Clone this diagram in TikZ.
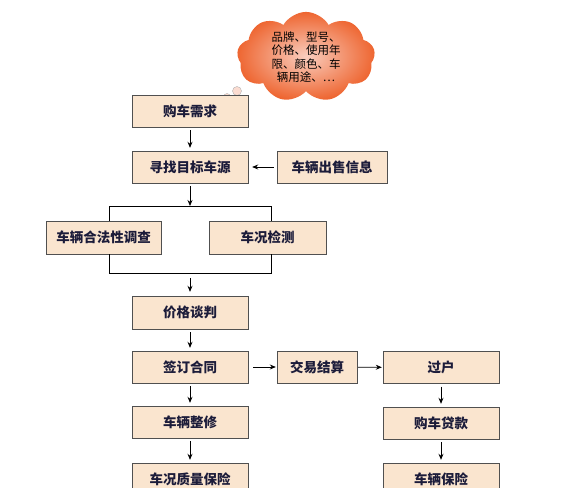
\documentclass[tikz,border=0pt]{standalone}
\usepackage{fontspec}
\newfontfamily\cjk{Noto Sans CJK SC}
\usetikzlibrary{arrows.meta,shapes.symbols}
\definecolor{boxfill}{HTML}{FAE5CF}
\definecolor{boxline}{HTML}{505050}
\definecolor{boxtext}{HTML}{1C1C3A}
\definecolor{cloudin}{HTML}{F9CDBE}
\definecolor{cloudout}{HTML}{EE6530}
\tikzset{
  stepbox/.style={draw=boxline, fill=boxfill, rectangle, minimum height=32pt,
    inner sep=0pt, font=\cjk\bfseries\fontsize{13.5}{15}\selectfont, text=boxtext},
  flow/.style={-{Stealth[length=6pt,width=5pt]}, thick},
  link/.style={line width=0.8pt}
}

\begin{document}
\begin{tikzpicture}[x=1pt, y=-1pt]
    \useasboundingbox (0, 0) rectangle (575, 487);
    % thought cloud
    \node[cloud, cloud puffs=9, cloud puff arc=120, aspect=1.55,
      minimum width=138pt, minimum height=86pt, inner sep=0pt, draw=none, shade,
      shading=radial, inner color=cloudin, outer color=cloudout,
      align=center, font=\cjk\fontsize{11.5}{13.5}\selectfont]
      (wish) at (306, 57) {品牌、型号、\\价格、使用年\\限、颜色、车\\辆用途、…};
    \draw[draw=gray!60, fill=cloudin!70] (237, 91) circle (4.5);
    \draw[draw=gray!60, fill=cloudin!70] (227, 97) circle (3.5);

    % left column
    \node[stepbox, minimum width=116pt] (need) at (190, 111) {购车需求};
    \node[stepbox, minimum width=116pt] (search) at (190, 167) {寻找目标车源};
    \node[stepbox, minimum width=110pt] (sale) at (332, 167) {车辆出售信息};
    \node[stepbox, minimum width=115pt, minimum height=33pt] (legal) at (103.5, 237.5) {车辆合法性调查};
    \node[stepbox, minimum width=117pt, minimum height=33pt] (check) at (267.5, 237.5) {车况检测};
    \node[stepbox, minimum width=116pt, minimum height=33pt] (price) at (190, 312.5) {价格谈判};
    \node[stepbox, minimum width=116pt] (contract) at (190, 367) {签订合同};
    \node[stepbox, minimum width=116pt] (repair) at (190, 422) {车辆整修};
    \node[stepbox, minimum width=116pt] (quality) at (190, 479) {车况质量保险};

    % right side
    \node[stepbox, minimum width=80pt] (settle) at (317, 367) {交易结算};
    \node[stepbox, minimum width=116pt] (transfer) at (441, 367.5) {过户};
    \node[stepbox, minimum width=116pt] (loan) at (441, 423) {购车贷款};
    \node[stepbox, minimum width=116pt] (insure) at (441, 479) {车辆保险};

    % split and join
    \coordinate (splitL) at (109, 206);
    \coordinate (splitR) at (271, 206);
    \coordinate (joinL) at (109, 273);
    \coordinate (joinR) at (271, 273);
    \coordinate (split) at (190, 206);
    \coordinate (join) at (190, 273);

    \draw[link] (legal.north -| splitL) -- (splitL) -- (splitR) -- (check.north -| splitR);
    \draw[link] (legal.south -| joinL) -- (joinL) -- (joinR) -- (check.south -| joinR);

    \draw[flow, shorten <=3pt, shorten >=3pt] (need) -- (search);
    \draw[flow, shorten <=3pt, shorten >=4pt] (sale) -- (search);
    \draw[flow, shorten <=3pt] (search) -- (split);
    \draw[flow, shorten <=5pt, shorten >=4pt] (join) -- (price);
    \draw[flow, shorten <=3pt, shorten >=3pt] (price) -- (contract);
    \draw[flow, shorten <=3pt, shorten >=3pt] (contract) -- (repair);
    \draw[flow, shorten <=3pt, shorten >=3pt] (repair) -- (quality);
    \draw[flow, shorten <=5pt, shorten >=1pt] (contract) -- (settle);
    \draw[flow, shorten <=1pt, shorten >=1pt] (settle) -- (transfer);
    \draw[flow, shorten <=3pt, shorten >=3pt] (transfer) -- (loan);
    \draw[flow, shorten <=3pt, shorten >=3pt] (loan) -- (insure);
  \end{tikzpicture}
\end{document}
